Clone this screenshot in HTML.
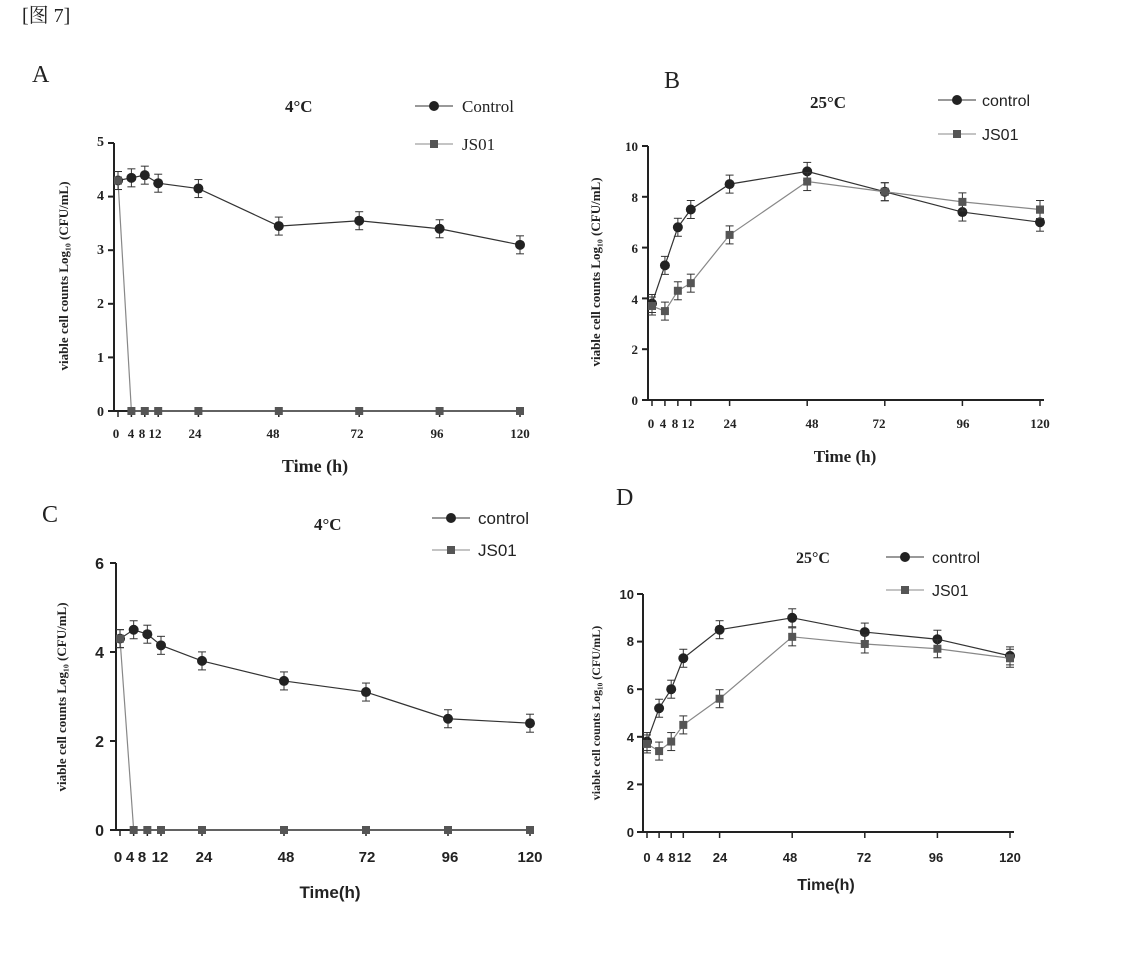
<!DOCTYPE html>
<html><head><meta charset="utf-8"><style>
body{margin:0;background:#fff;}
svg{display:block}
.s{font-family:"Liberation Serif","Noto Serif CJK SC",serif;fill:#222}
.a{font-family:"Liberation Sans",sans-serif;fill:#222}
</style></head><body>
<svg id="g" width="1125" height="958" xmlns="http://www.w3.org/2000/svg">
<text x="22" y="22" class="s" font-size="20" fill="#333">[图 7]</text>
<text x="32" y="82" class="s" font-size="24">A</text>
<text x="664" y="88" class="s" font-size="24">B</text>
<text x="42" y="522" class="s" font-size="24">C</text>
<text x="616" y="505" class="s" font-size="24">D</text>
<!-- A -->
<text x="285" y="112" class="s" font-size="17" font-weight="bold">4°C</text>
<text x="462" y="112" class="s" font-size="17">Control</text>
<text x="462" y="150" class="s" font-size="17">JS01</text>
<text transform="translate(68,276) rotate(-90)" text-anchor="middle" class="s" font-size="13" font-weight="bold">viable cell counts Log₁₀ (CFU/mL)</text>
<g class="s" font-size="14" font-weight="bold" text-anchor="end">
<text x="104" y="146">5</text><text x="104" y="200">4</text><text x="104" y="254">3</text><text x="104" y="308">2</text><text x="104" y="362">1</text><text x="104" y="416">0</text></g>
<g class="s" font-size="13" font-weight="bold" text-anchor="middle">
<text x="116" y="438">0</text><text x="131" y="438">4</text><text x="142" y="438">8</text><text x="155" y="438">12</text><text x="195" y="438">24</text><text x="273" y="438">48</text><text x="357" y="438">72</text><text x="437" y="438">96</text><text x="520" y="438">120</text></g>
<text x="315" y="472" class="s" font-size="18" font-weight="bold" text-anchor="middle">Time (h)</text>
<!-- B -->
<text x="810" y="108" class="s" font-size="17" font-weight="bold">25°C</text>
<text x="982" y="106" class="a" font-size="16">control</text>
<text x="982" y="140" class="a" font-size="16">JS01</text>
<text transform="translate(600,272) rotate(-90)" text-anchor="middle" class="s" font-size="13" font-weight="bold">viable cell counts Log₁₀ (CFU/mL)</text>
<g class="s" font-size="13" font-weight="bold" text-anchor="end">
<text x="638" y="151">10</text><text x="638" y="202">8</text><text x="638" y="253">6</text><text x="638" y="304">4</text><text x="638" y="354">2</text><text x="638" y="405">0</text></g>
<g class="s" font-size="13" font-weight="bold" text-anchor="middle">
<text x="651" y="428">0</text><text x="663" y="428">4</text><text x="675" y="428">8</text><text x="688" y="428">12</text><text x="730" y="428">24</text><text x="812" y="428">48</text><text x="879" y="428">72</text><text x="963" y="428">96</text><text x="1040" y="428">120</text></g>
<text x="845" y="462" class="s" font-size="17" font-weight="bold" text-anchor="middle">Time (h)</text>
<!-- C -->
<text x="314" y="530" class="s" font-size="17" font-weight="bold">4°C</text>
<text x="478" y="524" class="a" font-size="17">control</text>
<text x="478" y="556" class="a" font-size="17">JS01</text>
<text transform="translate(66,697) rotate(-90)" text-anchor="middle" class="s" font-size="13" font-weight="bold">viable cell counts Log₁₀ (CFU/mL)</text>
<g class="a" font-size="16" font-weight="bold" text-anchor="end">
<text x="104" y="569">6</text><text x="104" y="658">4</text><text x="104" y="747">2</text><text x="104" y="836">0</text></g>
<g class="a" font-size="15" font-weight="bold" text-anchor="middle">
<text x="118" y="862">0</text><text x="130" y="862">4</text><text x="142" y="862">8</text><text x="160" y="862">12</text><text x="204" y="862">24</text><text x="286" y="862">48</text><text x="367" y="862">72</text><text x="450" y="862">96</text><text x="530" y="862">120</text></g>
<text x="330" y="898" class="a" font-size="17" font-weight="bold" text-anchor="middle">Time(h)</text>
<!-- D -->
<text x="796" y="563" class="s" font-size="16" font-weight="bold">25°C</text>
<text x="932" y="563" class="a" font-size="16">control</text>
<text x="932" y="596" class="a" font-size="16">JS01</text>
<text transform="translate(600,713) rotate(-90)" text-anchor="middle" class="s" font-size="12" font-weight="bold">viable cell counts Log₁₀ (CFU/mL)</text>
<g class="a" font-size="13" font-weight="bold" text-anchor="end">
<text x="634" y="599">10</text><text x="634" y="646">8</text><text x="634" y="694">6</text><text x="634" y="742">4</text><text x="634" y="790">2</text><text x="634" y="837">0</text></g>
<g class="a" font-size="13" font-weight="bold" text-anchor="middle">
<text x="647" y="862">0</text><text x="660" y="862">4</text><text x="672" y="862">8</text><text x="684" y="862">12</text><text x="720" y="862">24</text><text x="790" y="862">48</text><text x="864" y="862">72</text><text x="936" y="862">96</text><text x="1010" y="862">120</text></g>
<text x="826" y="890" class="a" font-size="16" font-weight="bold" text-anchor="middle">Time(h)</text>
</svg>
<script>
var svg=document.getElementById('g'),NS="http://www.w3.org/2000/svg";
function el(t,a){var e=document.createElementNS(NS,t);for(var k in a)e.setAttribute(k,a[k]);svg.appendChild(e);return e;}
var T=[0,4,8,12,24,48,72,96,120];
function panel(p){
 var X=function(t){return p.x0+(p.x1-p.x0)*t/120},Y=function(v){return p.y0-(p.y0-p.yt)*v/p.ymax};
 el('line',{x1:p.ax,y1:p.yt,x2:p.ax,y2:p.y0,stroke:'#222','stroke-width':2});
 el('line',{x1:p.ax,y1:p.y0,x2:p.x1+4,y2:p.y0,stroke:'#222','stroke-width':2});
 for(var v=0;v<=p.ymax;v+=p.step)el('line',{x1:p.ax-6,y1:Y(v),x2:p.ax,y2:Y(v),stroke:'#222','stroke-width':2});
 T.forEach(function(t){el('line',{x1:X(t),y1:p.y0,x2:X(t),y2:p.y0+6,stroke:'#222','stroke-width':1.5});});
 [p.c,p.j].forEach(function(d,i){
  var pts=T.map(function(t,k){return X(t)+','+Y(d[k])}).join(' ');
  el('polyline',{points:pts,fill:'none',stroke:i?'#888':'#333','stroke-width':1.2});
  T.forEach(function(t,k){var x=X(t),y=Y(d[k]);
   if(d[k]>0.1){el('line',{x1:x,y1:y-9,x2:x,y2:y+9,stroke:'#333','stroke-width':1});el('line',{x1:x-4,y1:y-9,x2:x+4,y2:y-9,stroke:'#333'});el('line',{x1:x-4,y1:y+9,x2:x+4,y2:y+9,stroke:'#333'});}
   if(i==0)el('circle',{cx:x,cy:y,r:5,fill:'#222'});else el('rect',{x:x-4,y:y-4,width:8,height:8,fill:'#555'});
  });
 });
 el('line',{x1:p.lx,y1:p.ly1,x2:p.lx+38,y2:p.ly1,stroke:'#333'});el('circle',{cx:p.lx+19,cy:p.ly1,r:5,fill:'#222'});
 el('line',{x1:p.lx,y1:p.ly2,x2:p.lx+38,y2:p.ly2,stroke:'#888'});el('rect',{x:p.lx+15,y:p.ly2-4,width:8,height:8,fill:'#555'});
}
var z=[4.3,0,0,0,0,0,0,0,0];
panel({ax:114,x0:118,x1:520,y0:411,yt:143,ymax:5,step:1,c:[4.3,4.35,4.4,4.25,4.15,3.45,3.55,3.4,3.1],j:z,lx:415,ly1:106,ly2:144});
panel({ax:648,x0:652,x1:1040,y0:400,yt:146,ymax:10,step:2,c:[3.8,5.3,6.8,7.5,8.5,9.0,8.2,7.4,7.0],j:[3.7,3.5,4.3,4.6,6.5,8.6,8.2,7.8,7.5],lx:938,ly1:100,ly2:134});
panel({ax:116,x0:120,x1:530,y0:830,yt:563,ymax:6,step:2,c:[4.3,4.5,4.4,4.15,3.8,3.35,3.1,2.5,2.4],j:z,lx:432,ly1:518,ly2:550});
panel({ax:643,x0:647,x1:1010,y0:832,yt:594,ymax:10,step:2,c:[3.8,5.2,6.0,7.3,8.5,9.0,8.4,8.1,7.4],j:[3.7,3.4,3.8,4.5,5.6,8.2,7.9,7.7,7.3],lx:886,ly1:557,ly2:590});
</script>
</body></html>
